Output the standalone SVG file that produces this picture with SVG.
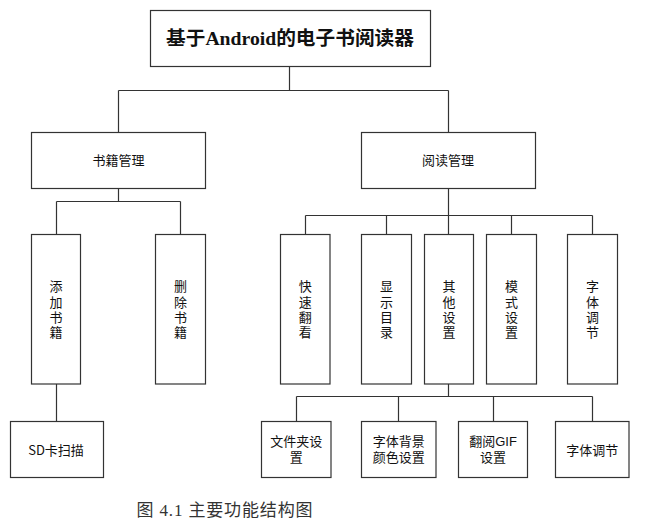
<svg xmlns="http://www.w3.org/2000/svg" width="649" height="530" viewBox="0 0 649 530">
<style>
.box{fill:#fff;stroke:#333;stroke-width:1.2}
.ln{fill:none;stroke:#333;stroke-width:1.2}
.t{font-family:"Noto Sans CJK SC","Liberation Sans",sans-serif;font-size:13px;fill:#111;text-anchor:middle;dominant-baseline:central}
.t2{font-family:"Liberation Sans","Noto Sans CJK SC",sans-serif;font-size:13px;fill:#111;text-anchor:middle}
.v{font-family:"Noto Sans CJK SC","Liberation Sans",sans-serif;font-size:13px;fill:#111;text-anchor:middle;writing-mode:vertical-rl;letter-spacing:2.3px}
.title{font-family:"Liberation Serif","Noto Sans CJK SC",serif;font-size:19px;font-weight:bold;fill:#111;text-anchor:middle;dominant-baseline:central}
.cap{font-family:"Liberation Serif","Noto Sans CJK SC",serif;font-size:17px;fill:#333}
</style>
<rect width="649" height="530" fill="#fff"/>
<g id="connectors">
<path class="ln" d="M289.5 66V90.5M118.5 90.5H448.5M118.5 90.5V132.5M448.5 90.5V132.5"/>
<path class="ln" d="M118.5 188.5V201.5M56.5 201.5H180.5M56.5 201.5V234.5M180.5 201.5V234.5M56.5 384V421.5"/>
<path class="ln" d="M448.5 188.5V215.5M305.5 215.5H592.5M305.5 215.5V234.5M386.5 215.5V234.5M448.5 215.5V234.5M511.5 215.5V234.5M592.5 215.5V234.5"/>
<path class="ln" d="M448.5 384V396.5M296.5 396.5H592.5M296.5 396.5V421.5M398.5 396.5V421.5M493.5 396.5V421.5M592.5 396.5V421.5"/>
</g>
<g id="root"><rect class="box" x="150.5" y="10.5" width="280" height="56"/><text class="title" x="290" y="38" textLength="248" lengthAdjust="spacingAndGlyphs">基于Android的电子书阅读器</text></g>
<g id="book-mgmt"><rect class="box" x="31.5" y="132.5" width="174" height="56"/><text class="t" x="118.5" y="159">书籍管理</text></g>
<g id="read-mgmt"><rect class="box" x="361.5" y="132.5" width="174" height="56"/><text class="t" x="448" y="159">阅读管理</text></g>
<g id="add-book"><rect class="box" x="31.5" y="234.5" width="49" height="149.5"/><text class="v" x="56" y="310.5">添加书籍</text></g>
<g id="del-book"><rect class="box" x="155.5" y="234.5" width="50" height="149.5"/><text class="v" x="180.5" y="310.5">删除书籍</text></g>
<g id="sd-scan"><rect class="box" x="10.5" y="421.5" width="93" height="56"/><text class="t" x="56" y="449.5">SD卡扫描</text></g>
<g id="quick"><rect class="box" x="280.5" y="234.5" width="49.5" height="149.5"/><text class="v" x="305.3" y="310.5">快速翻看</text></g>
<g id="toc"><rect class="box" x="361.5" y="234.5" width="50" height="149.5"/><text class="v" x="386.5" y="310.5">显示目录</text></g>
<g id="other"><rect class="box" x="424.5" y="234.5" width="49" height="149.5"/><text class="v" x="449" y="310.5">其他设置</text></g>
<g id="mode"><rect class="box" x="486.5" y="234.5" width="50" height="149.5"/><text class="v" x="511.5" y="310.5">模式设置</text></g>
<g id="font-adj"><rect class="box" x="567.5" y="234.5" width="50" height="149.5"/><text class="v" x="592.5" y="310.5">字体调节</text></g>
<g id="folder"><rect class="box" x="261.5" y="421.5" width="69.5" height="56"/><text class="t2" x="296.3" y="445.5">文件夹设<tspan x="296.3" dy="16.7">置</tspan></text></g>
<g id="bgcolor"><rect class="box" x="361.5" y="421.5" width="74.5" height="56"/><text class="t2" x="398.7" y="445.5">字体背景<tspan x="398.7" dy="16.7">颜色设置</tspan></text></g>
<g id="gif"><rect class="box" x="458.5" y="421.5" width="69" height="56"/><text class="t2" x="493" y="445.5">翻阅GIF<tspan x="493" dy="16.7">设置</tspan></text></g>
<g id="font-adj2"><rect class="box" x="555.5" y="421.5" width="73.5" height="56"/><text class="t" x="592.3" y="449.5">字体调节</text></g>
<text class="cap" x="136.5" y="515.5" textLength="176">图 4.1  主要功能结构图</text>
</svg>
